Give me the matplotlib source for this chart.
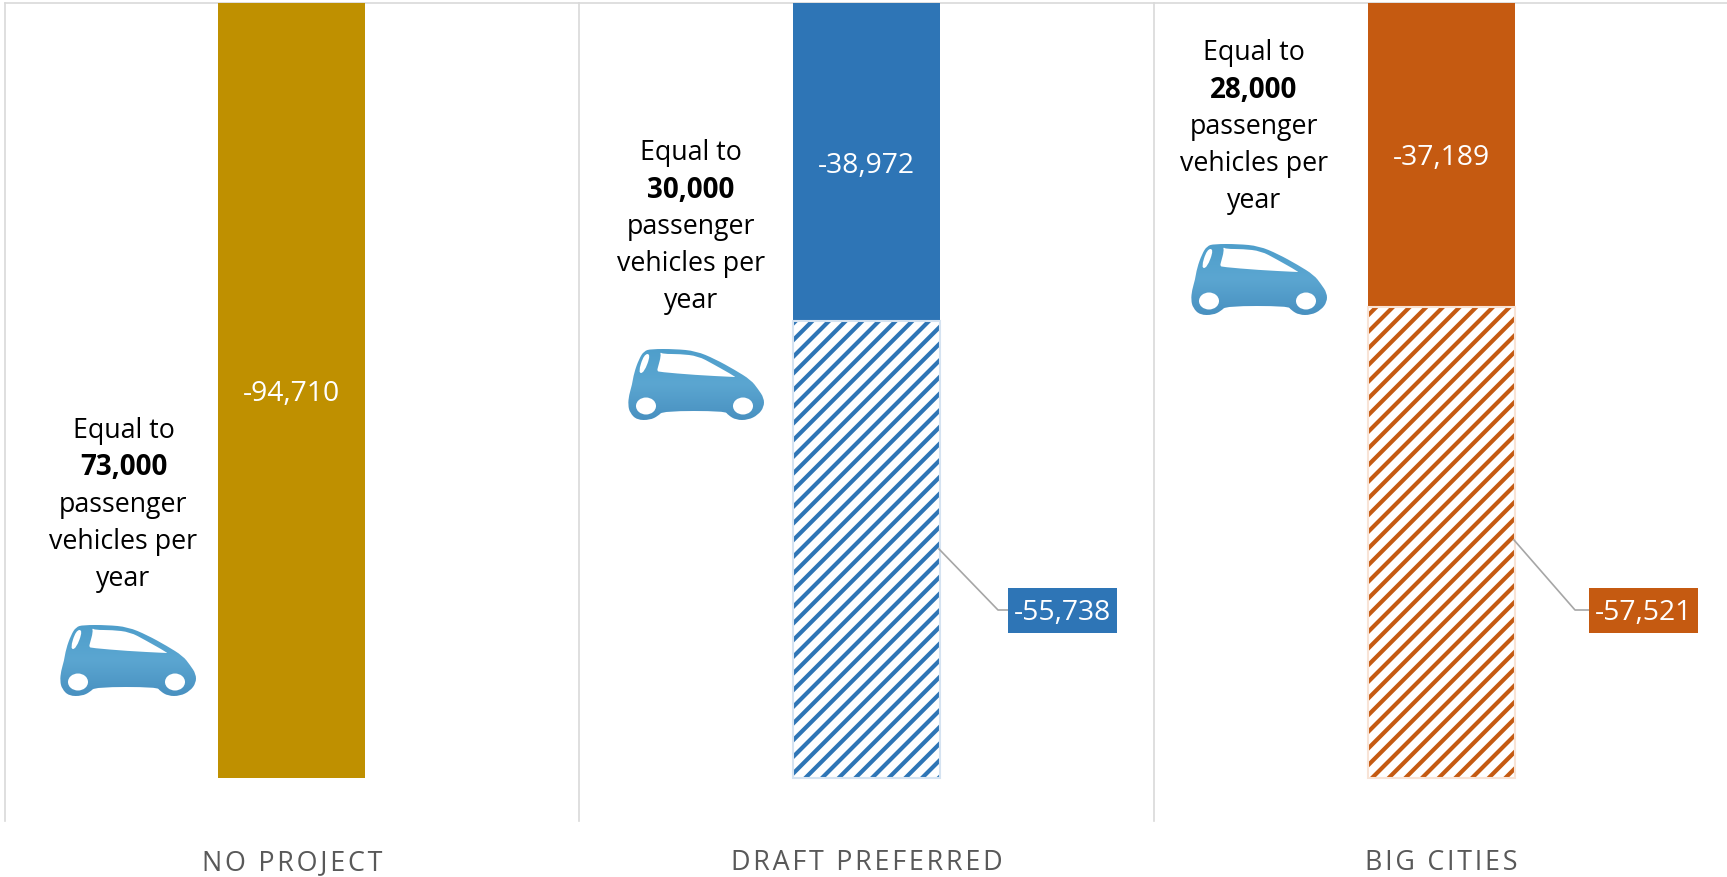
import matplotlib
matplotlib.use("Agg")
import matplotlib.pyplot as plt
from matplotlib.colors import LinearSegmentedColormap
from matplotlib.patches import Ellipse, PathPatch, Rectangle
from matplotlib.path import Path
import numpy as np

W, H = 1727, 878

plt.rcParams["font.family"] = ["Open Sans", "DejaVu Sans"]
plt.rcParams["hatch.linewidth"] = 3.0

categories = ["NO PROJECT", "DRAFT PREFERRED", "BIG CITIES"]
solid_values = [-94710, -38972, -37189]
hatched_values = [0, -55738, -57521]
colors = ["#BF9000", "#2E75B6", "#C55A11"]
border_colors = ["#BF9000", "#D5E3F1", "#F8E3D5"]
car_equivalents = ["73,000", "30,000", "28,000"]

fig = plt.figure(figsize=(W / 100, H / 100), dpi=100)
ax = fig.add_axes([4.5 / W, 1 - 822 / H, 1724 / W, (822 - 3.5) / H])
ax.set_xlim(-0.5, 2.5)
ax.set_ylim(-100000, 0)

x = np.arange(3)
bar_w = 147 / 574.67

ax.bar(x, solid_values, width=bar_w, color=colors, linewidth=0, zorder=3)
for i in [1, 2]:
    # hatch takes the edge colour, so the pale outline goes on as a second bar
    ax.bar(x[i], hatched_values[i], bottom=solid_values[i], width=bar_w, facecolor="white",
           edgecolor=colors[i], hatch="//", linewidth=0, zorder=3)
    ax.bar(x[i], hatched_values[i], bottom=solid_values[i], width=bar_w, fill=False,
           edgecolor=border_colors[i], linewidth=1.5, zorder=4)

for i in range(3):
    ax.annotate(f"{solid_values[i]:,}", (x[i], solid_values[i] / 2), xytext=(0, -2),
                textcoords="offset points", color="white", fontsize=20.3,
                ha="center", va="center", zorder=5)

# separators and top rule
for xv in [-0.5, 0.5, 1.5, 2.5]:
    ax.axvline(xv, color="#D9D9D9", linewidth=1.2, clip_on=False, zorder=1)
ax.axhline(0, color="#D9D9D9", linewidth=1.2, clip_on=False, zorder=1)

for s in ax.spines.values():
    s.set_visible(False)
ax.set_yticks([])
ax.set_xticks(x)
ax.set_xticklabels(["\u200a".join(c) for c in categories], fontsize=19.4, color="#595959")
ax.tick_params(axis="x", length=0, pad=19.5)

# overlay in pixel coordinates for the notes, callouts and car icons
ov = fig.add_axes([0, 0, 1, 1], facecolor="none")
ov.set_xlim(0, W)
ov.set_ylim(H, 0)
ov.axis("off")

# note blocks: centre x, first line y
note_x = [123.5, 691, 1254]
note_y = [431, 153, 53]
line_step = 37
for i in range(3):
    lines = ["Equal to", car_equivalents[i], "passenger", "vehicles per", "year"]
    for j, line in enumerate(lines):
        bold = j == 1
        ov.text(note_x[i], note_y[i] + j * line_step, line, fontsize=20 if bold else 19.3, color="black",
                ha="center", va="center", fontweight="bold" if bold else "normal")

# callouts for the hatched parts
callouts = [(1, 939, 550, 998, 1008, 589), (2, 1514, 541, 1575, 1589, 589)]
for i, x0, y0, x1, bx, by in callouts:
    ov.plot([x0, x1, bx], [y0, by + 22, by + 22], color="#A6A6A6", linewidth=1.2, zorder=2)
    ov.add_patch(Rectangle((bx, by), 109, 45, facecolor=colors[i], linewidth=0, zorder=3))
    ov.text(bx + 55, by + 24, f"{hatched_values[i]:,}", color="white", fontsize=20.3,
            ha="center", va="center", zorder=4)


def smooth_path(points):
    # closed outline rounded with quadratic curves through the edge midpoints
    pts = np.array(points, dtype=float)
    mids = (pts + np.roll(pts, -1, axis=0)) / 2
    verts = [mids[-1]]
    codes = [Path.MOVETO]
    for k in range(len(pts)):
        verts += [pts[k], mids[k]]
        codes += [Path.CURVE3, Path.CURVE3]
    return Path(verts, codes)


# car icon outline, in pixels relative to the first car
car_body = [(21, 72), (24, 62), (26, 50), (31, 36), (36, 28), (43, 26), (67, 26), (88, 28), (107, 36),
            (127, 47), (143, 57), (150, 66), (156, 75), (156, 84), (150, 92), (140, 97), (128, 97),
            (120, 92), (117, 88), (55, 88), (50, 93), (42, 97), (29, 97), (22, 90), (20, 82)]
car_window = [(52, 29), (55, 31), (72, 31), (90, 33), (105, 41), (128, 54), (126, 54), (87, 52), (52, 49),
              (49, 48), (50, 44), (53, 33)]
car_stripe = [(36, 31), (43, 31), (36, 50), (30, 50)]
car_wheels = [(38, 83), (135, 83)]
car_cmap = LinearSegmentedColormap.from_list("car", ["#4E9ECB", "#5BA6D1", "#4890C0"])
car_offsets = [(40, 600), (608, 324), (1171, 219)]

for ox, oy in car_offsets:
    body = PathPatch(smooth_path([(ox + a, oy + b) for a, b in car_body]), facecolor="none",
                     edgecolor="none", transform=ov.transData)
    ov.add_patch(body)
    grad = np.linspace(0, 1, 64).reshape(-1, 1)
    im = ov.imshow(grad, cmap=car_cmap, aspect="auto", zorder=2,
                   extent=(ox, ox + 160, oy + 98, oy + 24))
    im.set_clip_path(body)
    for shape in [car_window, car_stripe]:
        ov.add_patch(PathPatch(smooth_path([(ox + a, oy + b) for a, b in shape]),
                               facecolor="white", edgecolor="none", zorder=3))
    for a, b in car_wheels:
        ov.add_patch(Ellipse((ox + a, oy + b), 20, 17, facecolor="white", edgecolor="none", zorder=3))

ov.set_xlim(0, W)
ov.set_ylim(H, 0)

fig.savefig("out.png", dpi=100, facecolor="white")
